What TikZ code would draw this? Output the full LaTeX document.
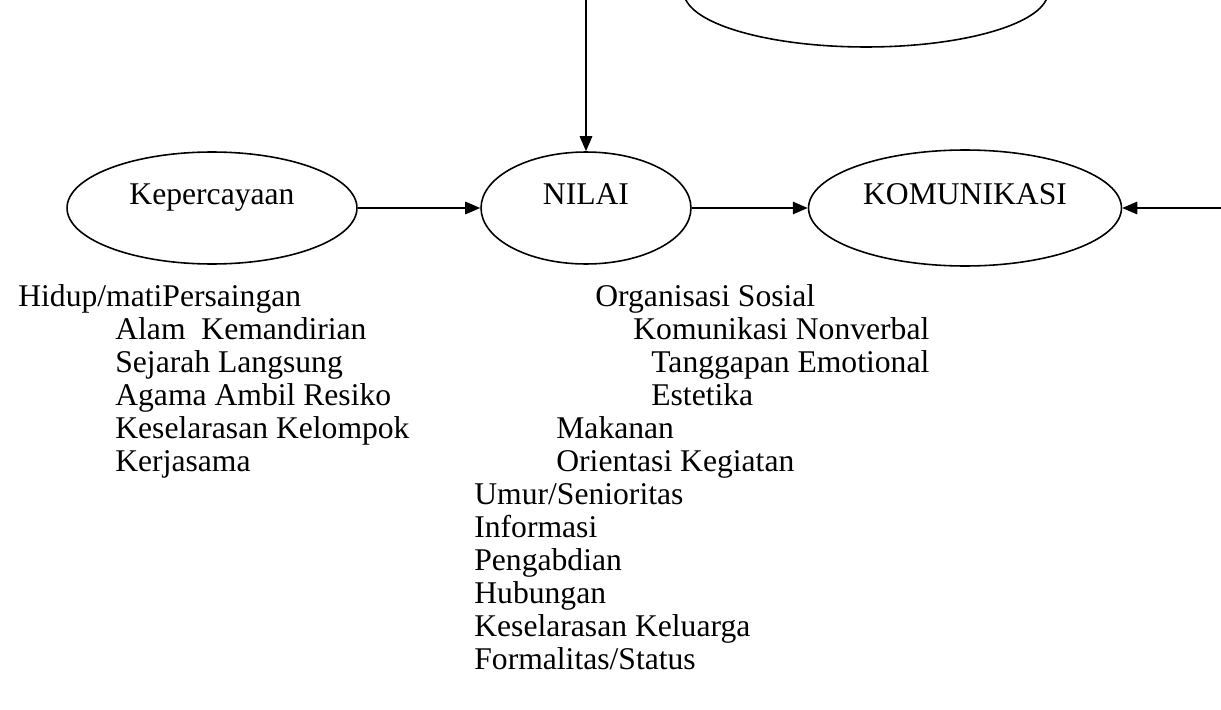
\documentclass[tikz,border=0pt]{standalone}
\usepackage{fontspec}
\setmainfont{Liberation Serif}
\usepackage{tikz}
\usetikzlibrary{shapes,arrows.meta,positioning}

\tikzset{
  oval/.style={ellipse,draw,line width=0.9pt,inner sep=0pt,text height=0.45cm,text depth=0.6cm},
  item/.style={anchor=base west,inner sep=0pt},
  link/.style={line width=0.9pt,-{Triangle[length=0.3cm,width=0.25cm]}}
}

\begin{document}
\begin{tikzpicture}[x=0.02cm,y=-0.02cm,font=\fontsize{18}{21}\selectfont]
    \useasboundingbox (0,0) rectangle (1221,710);

    % ellipses
    \node[oval,minimum width=7.28cm,minimum height=2.2cm] (atas) at (866,-8) {};
    \node[oval,minimum width=5.8cm,minimum height=2.24cm] (kep) at (212,208) {Kepercayaan};
    \node[oval,minimum width=4.2cm,minimum height=2.24cm] (nilai) at (586,208) {NILAI};
    \node[oval,minimum width=6.26cm,minimum height=2.32cm] (kom) at (965,208) {KOMUNIKASI};

    \coordinate (dariatas) at (586,0);
    \coordinate (darikanan) at (1221,208);

    \draw[link] (dariatas) -- (nilai.north);
    \draw[link] (kep) -- (nilai);
    \draw[link] (nilai) -- (kom);
    \draw[link] (darikanan) -- (kom.east);

    % daftar kepercayaan
    \node[item] (k1) at (18,306) {Hidup/matiPersaingan};
    \node[item] (k2) at (115,339) {Alam\ \ Kemandirian};
    \node[item] (k3) at (115,372) {Sejarah Langsung};
    \node[item] (k4) at (115,405) {Agama Ambil Resiko};
    \node[item] (k5) at (115,438) {Keselarasan Kelompok};
    \node[item] (k6) at (115,471) {Kerjasama};

    % daftar nilai
    \node[item] (n1) at (595,306) {Organisasi Sosial};
    \node[item] (n2) at (633,339) {Komunikasi Nonverbal};
    \node[item] (n3) at (651,372) {Tanggapan Emotional};
    \node[item] (n4) at (651,405) {Estetika};
    \node[item] (n5) at (556,438) {Makanan};
    \node[item] (n6) at (556,471) {Orientasi Kegiatan};
    \node[item] (n7) at (474,504) {Umur/Senioritas};
    \node[item] (n8) at (474,537) {Informasi};
    \node[item] (n9) at (474,570) {Pengabdian};
    \node[item] (n10) at (474,603) {Hubungan};
    \node[item] (n11) at (474,636) {Keselarasan Keluarga};
    \node[item] (n12) at (474,669) {Formalitas/Status};
\end{tikzpicture}
\end{document}
